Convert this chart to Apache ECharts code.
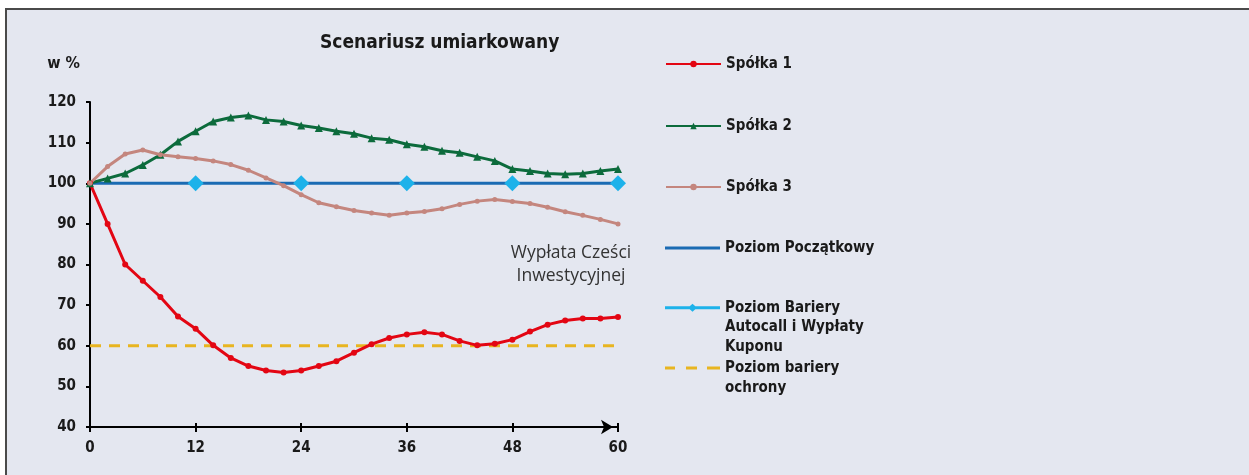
<!DOCTYPE html>
<html><head><meta charset="utf-8">
<script src="https://cdn.jsdelivr.net/npm/echarts@6/dist/echarts.min.js"></script>
<style>
html,body{margin:0;padding:0;background:#fff;}
#frame{position:absolute;left:5px;top:8px;width:1244px;height:467px;box-sizing:border-box;border-top:2px solid #4a4a4a;border-left:2px solid #4a4a4a;background:#e4e7f0;}
#chart{position:absolute;left:0;top:0;width:1249px;height:475px;}
</style></head><body><div id="frame"></div><div id="chart"></div>
<script>
const months = [0,2,4,6,8,10,12,14,16,18,20,22,24,26,28,30,32,34,36,38,40,42,44,46,48,50,52,54,56,58,60];
const spolka1 = [100,90,80,76,72,67.2,64.2,60.1,57,55,53.9,53.4,53.9,55,56.2,58.3,60.4,61.9,62.8,63.3,62.8,61.2,60.1,60.5,61.5,63.5,65.2,66.2,66.7,66.7,67.1];
const spolka2 = [100,101.2,102.4,104.5,107,110.3,112.8,115.2,116.2,116.7,115.6,115.2,114.2,113.6,112.8,112.2,111.1,110.7,109.6,109,108,107.5,106.5,105.5,103.5,103,102.4,102.2,102.4,103,103.5];
const spolka3 = [100,104.1,107.2,108.2,107,106.5,106.1,105.5,104.6,103.2,101.3,99.4,97.2,95.2,94.2,93.3,92.7,92.1,92.7,93.05,93.7,94.8,95.6,96,95.5,95,94.1,93,92.1,91.1,90];
const startMonths = [0,60];
const startLevel = [100,100];
const autocallMonths = [12,24,36,48,60];
const autocallLevel = [100,100,100,100,100];
const protMonths = [0,60];
const protLevel = [60,60];
const xTicks = [0,12,24,36,48,60];
const yTicks = [40,50,60,70,80,90,100,110,120];
const names = ['Spółka 1','Spółka 2','Spółka 3','Poziom Początkowy','Poziom Bariery\nAutocall i Wypłaty\nKuponu','Poziom bariery\nochrony'];
const titleText = 'Scenariusz umiarkowany';
const yName = 'w %';
const noteText = 'Wypłata Cześci\nInwestycyjnej';

const FONT = "'Liberation Sans Narrow','DejaVu Sans Condensed','Liberation Sans',sans-serif";
const zip = (xs, ys) => xs.map((x, i) => [x, ys[i]]);
const chart = echarts.init(document.getElementById('chart'), null, {renderer: 'canvas'});

const ICON_LINE = 'path://M0,0L55,0L55,3L0,3Z';
const ICON_DIAMOND = 'path://M0,2.5L24.7,2.5L27.5,0L30.3,2.5L55,2.5L55,5.5L30.3,5.5L27.5,8L24.7,5.5L0,5.5Z M0,47L0.01,47L0.01,47.001Z';
const ICON_DASH = 'path://M0,0L10,0L10,3L0,3Z M21,0L32,0L32,3L21,3Z M42,0L55,0L55,3L42,3Z M0,23L0.01,23L0.01,23.001Z';

function leg(name, top, lh, icon, ih) {
  const item = {name: name};
  if (icon) { item.icon = icon; item.itemStyle = {borderWidth: 0}; }
  return {
    left: 665, top: top, padding: 0, itemWidth: 55, itemHeight: ih || 8, selectedMode: false,
    data: [item],
    textStyle: {fontFamily: FONT, fontWeight: 'bold', fontSize: 15, color: '#1a1a1a', lineHeight: lh}
  };
}

chart.setOption({
  animation: false,
  title: {text: titleText, left: 315, top: 29, textStyle: {fontFamily: FONT, fontWeight: 'bold', fontSize: 19, color: '#1a1a1a'}},
  grid: {left: 90, right: 631, top: 102, bottom: 48, containLabel: false},
  legend: [
    leg(names[0], 55, 18),
    leg(names[1], 117, 18),
    leg(names[2], 178, 18),
    leg(names[3], 239, 18, ICON_LINE, 3),
    leg(names[4], 298, 19.5, ICON_DIAMOND, 47),
    leg(names[5], 358, 20, ICON_DASH, 23)
  ],
  xAxis: [{
    type: 'value', min: 0, max: 60, interval: 12,
    axisLine: {lineStyle: {color: '#000', width: 2}, symbol: ['none', 'arrow'], symbolSize: [11, 12], symbolOffset: [0, -5]},
    axisTick: {show: true, length: 5, lineStyle: {color: '#000', width: 2}},
    axisLabel: {margin: 14, fontFamily: FONT, fontWeight: 'bold', fontSize: 15, color: '#1a1a1a', customValues: xTicks},
    splitLine: {show: false}
  }, {
    type: 'value', min: 0, max: 60, interval: 12, position: 'bottom',
    axisLine: {show: false},
    axisTick: {show: true, inside: true, length: 4, lineStyle: {color: '#000', width: 2}},
    axisLabel: {show: false}, splitLine: {show: false}
  }],
  yAxis: {
    type: 'value', min: 40, max: 120, interval: 10,
    name: yName, nameLocation: 'end', nameGap: 30,
    nameTextStyle: {fontFamily: FONT, fontWeight: 'bold', fontSize: 16, color: '#1a1a1a', align: 'right', padding: [0, 10, 0, 0]},
    axisLine: {show: true, lineStyle: {color: '#000', width: 2}},
    axisTick: {show: true, length: 4, lineStyle: {color: '#000', width: 2}},
    axisLabel: {margin: 14, fontFamily: FONT, fontWeight: 'bold', fontSize: 15, color: '#1a1a1a'},
    splitLine: {show: false}
  },
  graphic: [{
    type: 'text', x: 571, y: 265, z: 10,
    style: {text: noteText, align: 'center', verticalAlign: 'middle', fontFamily: "'Open Sans',sans-serif", fontSize: 17.5, lineHeight: 23, fill: '#333333'}
  }],
  series: [
    {name: names[3], type: 'line', data: zip(startMonths, startLevel), symbol: 'none', lineStyle: {color: '#1a6bb3', width: 3}, itemStyle: {color: '#1a6bb3'}, z: 2},
    {name: names[5], type: 'line', data: zip(protMonths, protLevel), symbol: 'none', lineStyle: {color: '#e8b520', width: 3, type: [11, 8]}, itemStyle: {color: '#e8b520'}, z: 2},
    {name: names[0], type: 'line', data: zip(months, spolka1), symbol: 'circle', symbolSize: 6, lineStyle: {color: '#e30613', width: 3}, itemStyle: {color: '#e30613'}, z: 3},
    {name: names[1], type: 'line', data: zip(months, spolka2), symbol: 'triangle', symbolSize: 8, lineStyle: {color: '#0c6b3c', width: 3}, itemStyle: {color: '#0c6b3c'}, z: 3},
    {name: names[2], type: 'line', data: zip(months, spolka3), symbol: 'circle', symbolSize: 5, lineStyle: {color: '#c4867e', width: 3}, itemStyle: {color: '#c4867e'}, z: 3},
    {name: names[4], type: 'line', data: zip(autocallMonths, autocallLevel), symbol: 'diamond', symbolSize: 16, lineStyle: {color: '#1db2ea', width: 0, opacity: 0}, itemStyle: {color: '#1db2ea'}, z: 4}
  ]
});
</script></body></html>
